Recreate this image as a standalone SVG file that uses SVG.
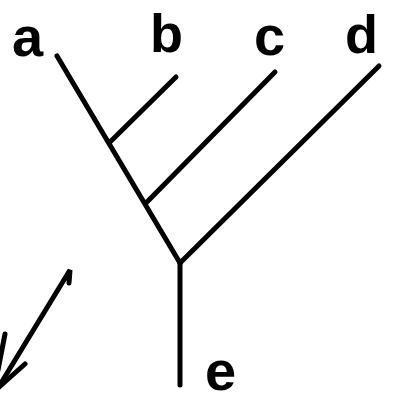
<svg xmlns="http://www.w3.org/2000/svg" width="393" height="403" viewBox="0 0 393 403">
<style>
.ln{stroke:#000;stroke-width:5;stroke-linecap:round;fill:none}
.lb{font-family:"Liberation Sans","DejaVu Sans",sans-serif;font-weight:700;fill:#000}
</style>
<rect width="393" height="403" fill="#fff"/>
<g id="connectors">
<path class="ln" d="M57,56 L180,263"/>
<path class="ln" d="M176,77 L110,142"/>
<path class="ln" d="M275,72 L146,203"/>
<path class="ln" d="M379,66 L180,263"/>
<path class="ln" d="M180,263 L180,385"/>
</g>
<g id="node-a"><text class="lb" x="12" y="56" font-size="56">a</text></g>
<g id="node-b"><text class="lb" x="150" y="52" font-size="54">b</text></g>
<g id="node-c"><text class="lb" x="254" y="55" font-size="56">c</text></g>
<g id="node-d"><text class="lb" x="345" y="53" font-size="54">d</text></g>
<g id="node-e"><text class="lb" x="205" y="390" font-size="56">e</text></g>
<g id="arrow">
<path class="ln" stroke-width="7" d="M69,283 L70,270 L-2,388"/>
<path class="ln" stroke-width="7" d="M25,364 L-2,388"/>
<path class="ln" stroke-width="7" d="M5,334 L-2,370"/>
</g>
</svg>
